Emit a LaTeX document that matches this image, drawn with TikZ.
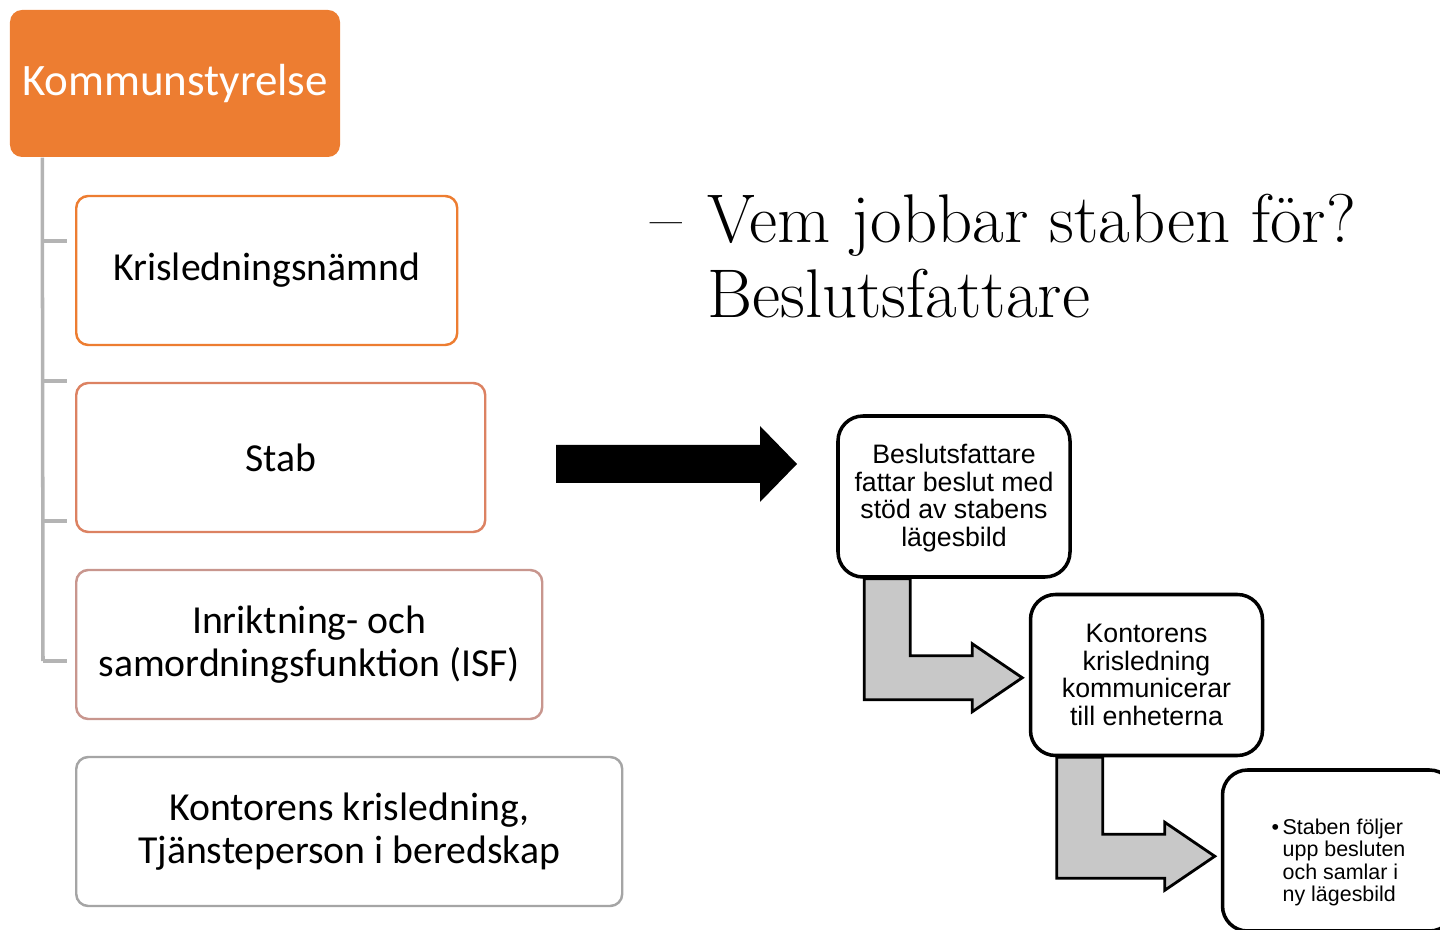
\documentclass[tikz,border=0pt]{standalone}
\usepackage{fontspec}
\setsansfont{Carlito}
\newfontfamily\arialfont{Liberation Sans}
\usetikzlibrary{arrows.meta,backgrounds,positioning}
\definecolor{tangerine}{HTML}{ED7D31}
\definecolor{clay}{HTML}{DC8262}
\definecolor{rosewood}{HTML}{C8968E}
\definecolor{ash}{HTML}{A5A5A5}
\definecolor{stemgray}{HTML}{B4B4B4}
\definecolor{flowgray}{HTML}{C8C8C8}

\begin{document}
\begin{tikzpicture}[
  orgbox/.style={draw, rounded corners=0.12cm, line width=0.7pt, fill=white, align=center,
    minimum height=1.49cm, anchor=west, inner sep=0pt, font=\sffamily\fontsize{11.3}{12.3}\selectfont},
  flowbox/.style={draw=black, rounded corners=0.25cm, line width=1pt, fill=white, align=center,
    minimum width=2.32cm, minimum height=1.61cm, inner sep=0pt, font=\arialfont\fontsize{7.6}{7.85}\selectfont},
  bendarrow/.style={fill=flowgray, draw=black, line width=0.8pt, line join=miter}]

	% Fix the page to the size of the slide.
	\useasboundingbox (0,0) rectangle (14.4,-9.3);
	\clip (0,0) rectangle (14.4,-9.3);

	% The organisation tree on the left.
	\node[fill=tangerine, rounded corners=0.12cm, minimum width=3.30cm, minimum height=1.47cm,
	  text=white, font=\sffamily\fontsize{12.8}{14}\selectfont] (ks) at (1.75,-0.835) {Kommunstyrelse};
	\node[orgbox, draw=tangerine, minimum width=3.81cm] (nmd) at (0.75,-2.705) {Krisledningsnämnd};
	\node[orgbox, draw=clay, minimum width=4.09cm] (stab) at (0.75,-4.575) {Stab};
	\node[orgbox, draw=rosewood, minimum width=4.66cm] (isf) at (0.75,-6.445) {Inriktning- och\\samordningsfunktion (ISF)};
	\node[orgbox, draw=ash, minimum width=5.46cm] (kont) at (0.75,-8.315) {Kontorens krisledning,\\Tjänsteperson i beredskap};

	% Stem and ticks of the tree.
	\draw[stemgray, line width=1pt] (ks.south west) ++(0.33,0) -- (0.43,-6.61);
	\foreach \y in {-2.41,-3.81,-5.21,-6.61}
	  \draw[stemgray, line width=1pt] (0.43,\y) -- (0.67,\y);

	% The question.
	\node[anchor=base west, font=\fontsize{19.6}{21.6}\selectfont] (dash) at (6.38,-2.42) {--};
	\node[anchor=base west, align=left, font=\fontsize{19.6}{21.6}\selectfont] (question) at (6.95,-3.18)
	  {Vem jobbar staben för?\\Beslutsfattare};

	% Big black arrow.
	\coordinate (tail) at (5.56,-4.64);
	\coordinate (tip) at (7.97,-4.64);
	\fill[black] (tail) ++(0,0.19) -- ++(2.04,0) -- ++(0,0.19) -- (tip) -- ++(-0.37,-0.38)
	  -- ++(0,0.19) -- ++(-2.04,0) -- cycle;

	% The process steps.
	\node[flowbox] (bA) at (9.54,-4.965)
	  {\raisebox{0pt}[\dimexpr\height+0.06cm\relax]{\begin{tabular}{@{}c@{}}Beslutsfattare\\fattar beslut med\\stöd av stabens\\lägesbild\end{tabular}}};
	\node[flowbox] (bB) at (11.465,-6.75) {Kontorens\\krisledning\\kommunicerar\\till enheterna};
	\node[flowbox, font=\arialfont\fontsize{6.1}{6.3}\selectfont] (bC) at (13.385,-8.505)
	  {\raisebox{0pt}[\dimexpr\height+0.26cm\relax]{\begin{tabular}{@{}l@{\,}l@{}}
	    \textbullet & Staben följer\\ & upp besluten\\ & och samlar i\\ & ny lägesbild
	  \end{tabular}}};

	% Bent arrows between the steps.
	\begin{scope}[on background layer]
	\foreach \n in {bA,bB}
	  \filldraw[bendarrow, shift={(\n.south west)}] (0.28,0) -- (0.28,-1.21) -- (1.36,-1.21)
	    -- (1.36,-1.33) -- (1.86,-0.99) -- (1.36,-0.65) -- (1.36,-0.77) -- (0.74,-0.77) -- (0.74,0) -- cycle;
	\end{scope}
\end{tikzpicture}
\end{document}
